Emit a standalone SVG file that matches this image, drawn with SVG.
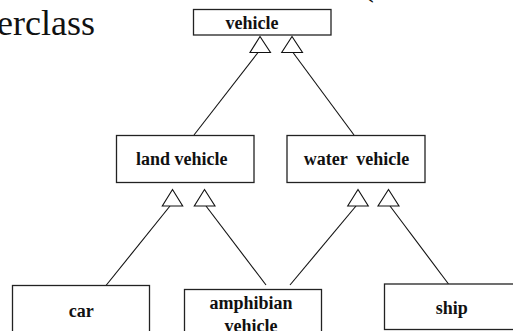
<svg xmlns="http://www.w3.org/2000/svg" width="513" height="331" viewBox="0 0 513 331">
  <style>
    .box { fill: #ffffff; stroke: #222222; stroke-width: 1.3; }
    .lbl { font-family: 'Liberation Serif', 'Times New Roman', Tinos, 'DejaVu Serif', serif; font-weight: bold; font-size: 18px; fill: #111111; text-anchor: middle; }
    .title { font-family: 'Liberation Serif', 'Times New Roman', Tinos, 'DejaVu Serif', serif; font-size: 36px; fill: #111111; }
    .edge { stroke: #111111; stroke-width: 1.1; fill: none; }
    .tri { fill: #ffffff; stroke: #111111; stroke-width: 1.1; stroke-linejoin: miter; }
  </style>

  <rect width="513" height="331" fill="#ffffff"/>

  <!-- heading text running off the edges -->
  <text class="title" x="-3" y="35">erclass</text>
  <text class="title" x="362" y="-5">(</text>

  <!-- generalisation connectors with hollow triangle heads -->
  <g id="connectors">
    <line class="edge" x1="258" y1="52.5" x2="194" y2="135"/>
    <line class="edge" x1="293" y1="52.5" x2="354" y2="135"/>
    <line class="edge" x1="170" y1="206" x2="106" y2="285.5"/>
    <line class="edge" x1="206" y1="206" x2="266" y2="285"/>
    <line class="edge" x1="356" y1="206" x2="290" y2="285"/>
    <line class="edge" x1="390" y1="206" x2="448.5" y2="284"/>
    <polygon class="tri" points="260,36.5 250,52.5 270.5,52.5"/>
    <polygon class="tri" points="292,36.5 281.7,52.5 302.5,52.5"/>
    <polygon class="tri" points="172.5,189.5 162.3,206 182.7,206"/>
    <polygon class="tri" points="204.5,189.5 194.3,206 215,206"/>
    <polygon class="tri" points="358,189.5 347.7,206 368.3,206"/>
    <polygon class="tri" points="388.5,189.5 378,206 399,206"/>
  </g>

  <g id="vehicle">
    <rect class="box" x="193.5" y="9.5" width="137.5" height="25.5"/>
    <text class="lbl" x="252" y="29">vehicle</text>
  </g>

  <g id="land-vehicle">
    <rect class="box" x="116.5" y="135.5" width="137.5" height="47"/>
    <text class="lbl" x="181.7" y="165">land vehicle</text>
  </g>

  <g id="water-vehicle">
    <rect class="box" x="287" y="135.5" width="138" height="47"/>
    <text class="lbl" x="356.5" y="165" xml:space="preserve">water  vehicle</text>
  </g>

  <g id="car">
    <rect class="box" x="12.5" y="285.5" width="137" height="60"/>
    <text class="lbl" x="81.3" y="317">car</text>
  </g>

  <g id="amphibian-vehicle">
    <rect class="box" x="184.5" y="289.5" width="137" height="60"/>
    <text class="lbl" x="251" y="309">amphibian</text>
    <text class="lbl" x="251" y="331.5">vehicle</text>
  </g>

  <g id="ship">
    <rect class="box" x="384.5" y="284" width="140" height="45.5"/>
    <text class="lbl" x="451.7" y="314">ship</text>
  </g>
</svg>
